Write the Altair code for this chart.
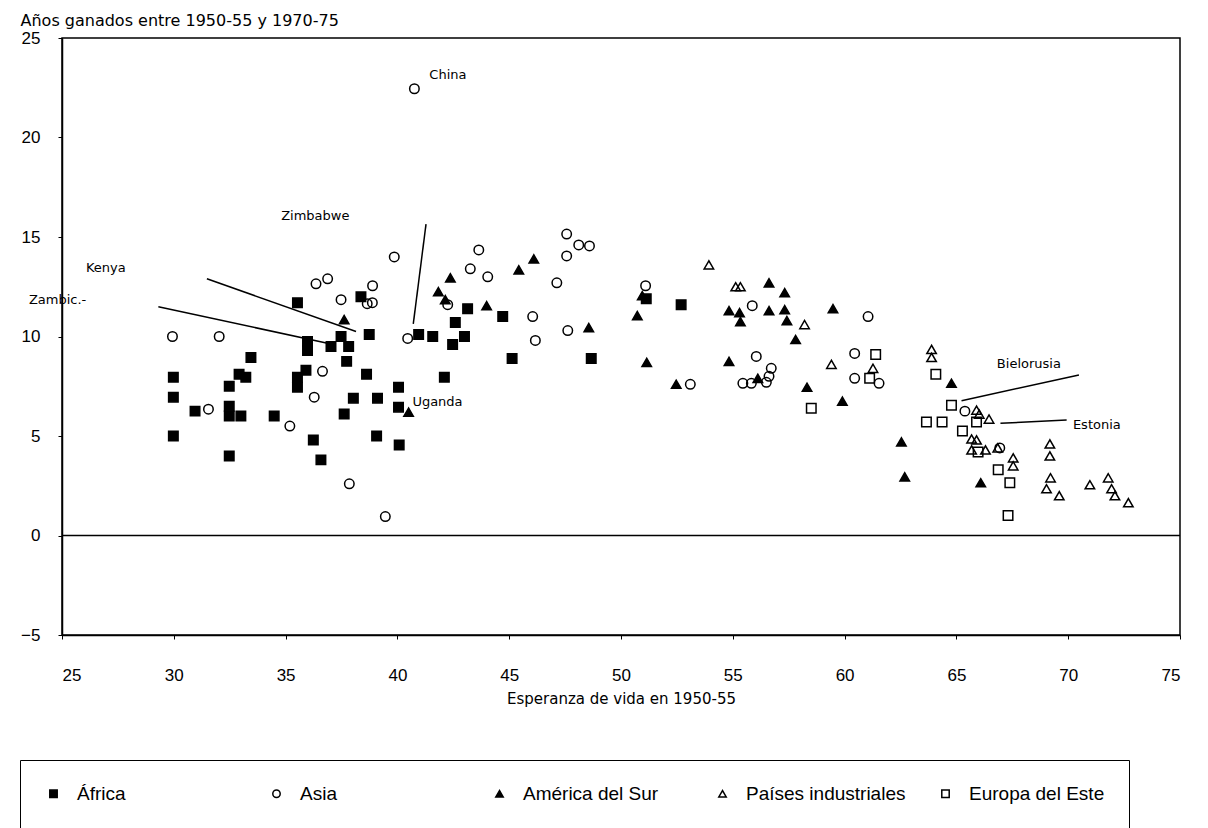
import altair as alt
import pandas as pd

regions = ["África", "Asia", "América del Sur", "Países industriales", "Europa del Este"]

africa_x = [35.53, 38.37, 37.48, 38.74, 35.98, 35.98, 37.03, 37.82, 37.73, 33.45, 35.91, 35.53,
            35.53, 32.92, 33.22, 29.98, 29.98, 29.98, 32.48, 32.48, 32.48, 33.0, 30.95, 32.48,
            34.49, 38.62, 38.03, 39.11, 37.62, 40.05, 40.05, 36.24, 36.58, 39.07, 40.08, 40.95,
            41.58, 42.47, 42.59, 43.0, 43.14, 44.71, 42.1, 45.13, 48.67, 51.13, 52.69]
africa_y = [11.7, 12.0, 10.0, 10.1, 9.75, 9.3, 9.5, 9.5, 8.75, 8.95, 8.3, 7.95,
            7.45, 8.1, 7.95, 7.95, 6.95, 5.0, 7.5, 6.5, 6.0, 6.0, 6.25, 4.0,
            6.0, 8.1, 6.9, 6.9, 6.1, 7.45, 6.45, 4.8, 3.8, 5.0, 4.55, 10.1,
            10.0, 9.6, 10.7, 10.0, 11.4, 11.0, 7.95, 8.9, 8.9, 11.9, 11.6]

asia_x = [40.76, 39.86, 36.88, 36.36, 38.89, 37.48, 38.65, 38.88, 29.94, 32.03, 40.46, 36.65,
          36.28, 31.55, 35.19, 37.85, 39.46, 42.25, 43.64, 43.26, 44.04, 47.57, 48.11, 48.59,
          47.57, 47.13, 46.05, 46.17, 47.62, 51.1, 55.87, 56.05, 56.72, 56.62, 55.45, 55.83,
          56.5, 53.1, 61.05, 60.45, 60.45, 61.54, 65.38, 66.94]
asia_y = [22.45, 14.0, 12.9, 12.65, 12.55, 11.85, 11.65, 11.7, 10.0, 10.0, 9.9, 8.25,
          6.95, 6.35, 5.5, 2.6, 0.95, 11.6, 14.35, 13.4, 13.0, 15.15, 14.6, 14.55,
          14.05, 12.7, 11.0, 9.8, 10.3, 12.55, 11.55, 9.0, 8.4, 8.0, 7.65, 7.65,
          7.7, 7.6, 11.0, 9.15, 7.9, 7.65, 6.25, 4.4]

sur_x = [37.62, 40.5, 42.37, 41.83, 42.14, 43.99, 45.43, 46.1, 48.56, 50.95, 50.73, 51.15,
         52.47, 54.83, 55.3, 55.34, 56.62, 56.62, 57.32, 57.32, 57.42, 57.81, 54.83, 56.12,
         58.32, 59.48, 59.9, 62.54, 62.69, 66.09, 64.78]
sur_y = [10.85, 6.2, 12.95, 12.25, 11.85, 11.55, 13.35, 13.9, 10.45, 12.05, 11.05, 8.7,
         7.6, 11.3, 11.2, 10.75, 12.7, 11.3, 12.2, 11.35, 10.8, 9.85, 8.75, 7.9,
         7.45, 11.4, 6.75, 4.7, 2.95, 2.65, 7.65]

ind_x = [53.93, 55.13, 55.34, 58.21, 59.41, 61.27, 63.89, 63.89, 65.9, 66.02, 66.46, 65.68,
         65.9, 65.68, 66.3, 66.85, 67.54, 67.54, 69.18, 69.18, 69.21, 69.03, 69.6, 70.97,
         71.79, 71.94, 72.09, 72.69]
ind_y = [13.6, 12.5, 12.5, 10.6, 8.6, 8.4, 9.35, 8.95, 6.3, 6.1, 5.85, 4.85,
         4.8, 4.3, 4.3, 4.4, 3.9, 3.5, 4.6, 4.0, 2.9, 2.35, 2.0, 2.55,
         2.9, 2.35, 2.0, 1.65]

este_x = [58.51, 61.39, 61.12, 64.08, 64.78, 63.66, 64.36, 65.9, 65.27, 65.97, 66.87, 67.39, 67.31]
este_y = [6.4, 9.1, 7.9, 8.1, 6.55, 5.7, 5.7, 5.7, 5.25, 4.2, 3.3, 2.65, 1.0]

label_names = ["China", "Zimbabwe", "Kenya", "Zambic.-", "Uganda", "Bielorusia", "Estonia"]
label_x = [41.43, 34.8, 26.07, 23.52, 40.67, 66.81, 70.21]
label_y = [23.15, 16.05, 13.45, 11.85, 6.7, 8.6, 5.55]

line_x = [41.28, 31.48, 29.31, 65.23, 66.97]
line_y = [15.65, 12.9, 11.5, 6.77, 5.64]
line_x2 = [40.71, 38.15, 37.03, 70.48, 69.93]
line_y2 = [10.63, 10.25, 9.62, 8.07, 5.8]

x_ticks = [25, 30, 35, 40, 45, 50, 55, 60, 65, 70, 75]
y_ticks = [-5, 0, 5, 10, 15, 20, 25]

rows = []
for reg, xs, ys in zip(regions, [africa_x, asia_x, sur_x, ind_x, este_x],
                       [africa_y, asia_y, sur_y, ind_y, este_y]):
    for a, b in zip(xs, ys):
        rows.append({"region": reg, "x": a, "y": b})
df = pd.DataFrame(rows)

labels_df = pd.DataFrame({"name": label_names, "x": label_x, "y": label_y})
lines_df = pd.DataFrame({"x": line_x, "y": line_y, "x2": line_x2, "y2": line_y2})
zero_df = pd.DataFrame({"y": [0]})

FONT = "DejaVu Sans"
LEGFONT = "Liberation Sans"
NARROW = "Liberation Sans Narrow, Liberation Sans"

xscale = alt.Scale(domain=[25, 75], nice=False, zero=False)
yscale = alt.Scale(domain=[-5, 25], nice=False, zero=False)

legend = alt.Legend(
    title=None, orient="none", legendX=-42, legendY=722, direction="horizontal",
    columns=5, gridAlign="all", columnPadding=30, padding=24, strokeColor="black",
    labelFont=LEGFONT, labelFontSize=19, labelColor="black", labelOffset=14,
    labelLimit=0, symbolSize=55, symbolStrokeWidth=1.5,
)

shape_scale = alt.Scale(domain=regions,
                        range=["square", "circle", "triangle-up", "triangle-up", "square"])
fill_scale = alt.Scale(domain=regions,
                       range=["black", "transparent", "black", "transparent", "transparent"])
stroke_scale = alt.Scale(domain=regions, range=["black", "black", "black", "black", "black"])

points = alt.Chart(df).mark_point(strokeWidth=1.5, opacity=1, size=90).encode(
    x=alt.X("x:Q", scale=xscale,
            axis=alt.Axis(values=x_ticks, title="Esperanza de vida en 1950-55",
                          labelPadding=28, titlePadding=8, titleFontSize=15,
                          titleFont=FONT, titleFontWeight="normal")),
    y=alt.Y("y:Q", scale=yscale,
            axis=alt.Axis(values=y_ticks, title="Años ganados entre 1950-55 y 1970-75",
                          titleAngle=0, titleX=-42, titleY=-18, titleAlign="left",
                          titleBaseline="middle", titleFontSize=16, titleFont=FONT,
                          titleFontWeight="normal", labelPadding=18)),
    shape=alt.Shape("region:N", scale=shape_scale, legend=legend),
    fill=alt.Fill("region:N", scale=fill_scale, legend=legend),
    stroke=alt.Stroke("region:N", scale=stroke_scale, legend=legend),
)

zero = alt.Chart(zero_df).mark_rule(color="black", strokeWidth=1.5).encode(y=alt.Y("y:Q", scale=yscale))

lines = alt.Chart(lines_df).mark_rule(color="black", strokeWidth=1.5).encode(
    x=alt.X("x:Q", scale=xscale), y=alt.Y("y:Q", scale=yscale), x2="x2:Q", y2="y2:Q")

texts = alt.Chart(labels_df).mark_text(align="left", baseline="middle", font=FONT,
                                       fontSize=13, color="black").encode(
    x=alt.X("x:Q", scale=xscale), y=alt.Y("y:Q", scale=yscale), text="name:N")

chart = alt.layer(zero, lines, points, texts).properties(
    width=1118, height=597,
    autosize=alt.AutoSizeParams(type="none"),
    padding={"left": 54, "top": 30, "right": 20, "bottom": 200},
).configure_view(stroke="black", strokeWidth=1.5).configure_axis(
    grid=False, domainColor="black", domainWidth=1.5, tickColor="black", tickSize=4,
    labelColor="black", titleColor="black", labelFont=NARROW, labelFontSize=17,
)

chart.save("out.html", embed_options={"renderer": "svg", "actions": False})
